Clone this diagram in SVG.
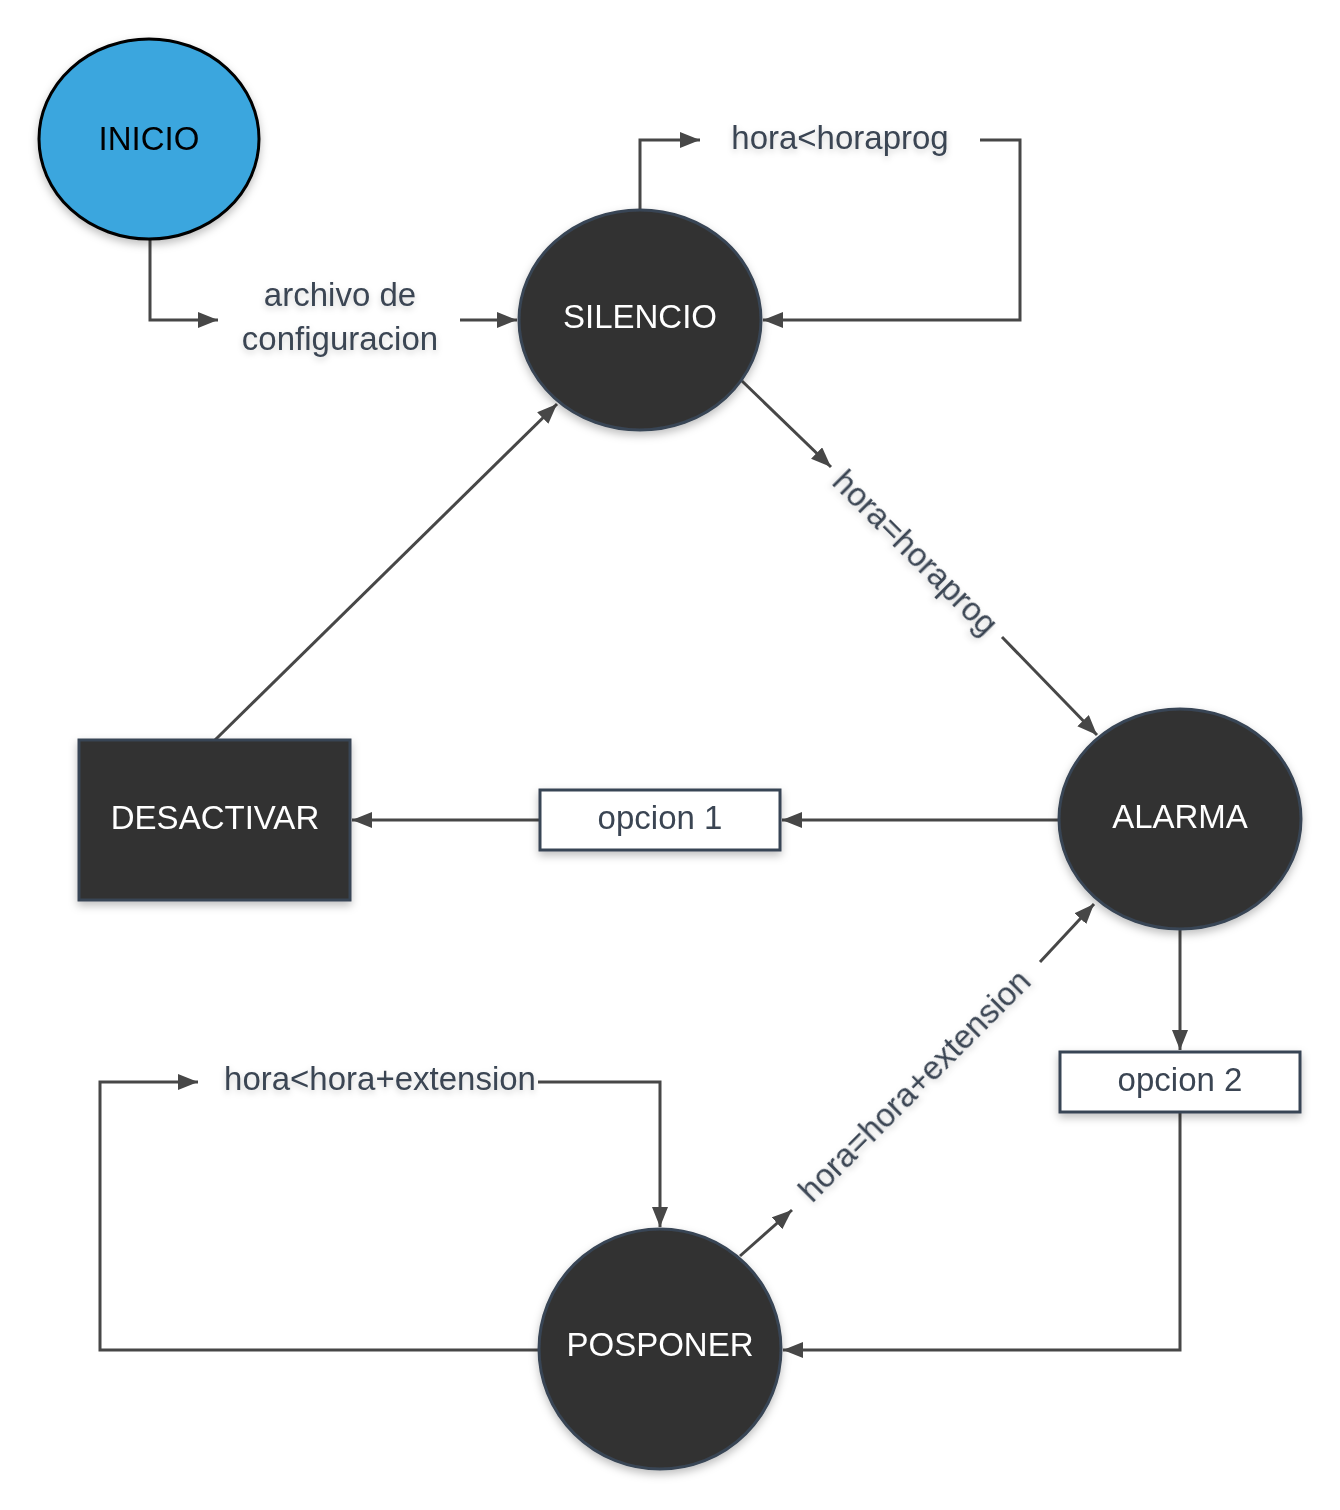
<svg xmlns="http://www.w3.org/2000/svg" width="1340" height="1510" viewBox="0 0 1340 1510">
  <style>
    .edge { fill: none; stroke: #474747; stroke-width: 3; }
    .state { fill: #333333; stroke: #394554; stroke-width: 3; }
    .opt { fill: #ffffff; stroke: #394554; stroke-width: 3; }
    .lbl { font-family: "Liberation Sans", Arial, sans-serif; font-size: 33px; fill: #3a4553; text-anchor: middle; }
    .name { font-family: "Liberation Sans", Arial, sans-serif; font-size: 33px; fill: #ffffff; text-anchor: middle; }
  </style>
  <defs>
    <marker id="arrow" markerUnits="userSpaceOnUse" markerWidth="22" markerHeight="18" refX="20" refY="8" orient="auto">
      <path d="M0,0 L20,8 L0,16 Z" fill="#474747"/>
    </marker>
    <filter id="shadow" x="-20%" y="-20%" width="140%" height="150%">
      <feDropShadow dx="0" dy="4" stdDeviation="4" flood-color="#000000" flood-opacity="0.25"/>
    </filter>
    <filter id="textglow" x="-10%" y="-30%" width="120%" height="170%">
      <feDropShadow dx="0" dy="3" stdDeviation="3" flood-color="#000000" flood-opacity="0.18"/>
    </filter>
  </defs>

  <rect width="1340" height="1510" fill="#ffffff"/>

  <!-- connectors -->
  <g id="connectors">
    <!-- INICIO -> SILENCIO -->
    <polyline class="edge" points="150,240 150,320 218,320" marker-end="url(#arrow)"/>
    <line class="edge" x1="460" y1="320" x2="517" y2="320" marker-end="url(#arrow)"/>
    <text class="lbl" x="340" y="294" dy=".35em" filter="url(#textglow)">archivo de</text>
    <text class="lbl" x="340" y="338" dy=".35em" filter="url(#textglow)">configuracion</text>

    <!-- SILENCIO self loop -->
    <polyline class="edge" points="640,209 640,140 700,140" marker-end="url(#arrow)"/>
    <polyline class="edge" points="980,140 1020,140 1020,320 763,320" marker-end="url(#arrow)"/>
    <text class="lbl" x="840" y="137" dy=".35em" filter="url(#textglow)">hora&lt;horaprog</text>

    <!-- SILENCIO -> ALARMA -->
    <line class="edge" x1="742" y1="381" x2="831" y2="467" marker-end="url(#arrow)"/>
    <line class="edge" x1="1002" y1="637" x2="1097" y2="735" marker-end="url(#arrow)"/>
    <text class="lbl" transform="translate(916,552) rotate(45)" dy=".35em" filter="url(#textglow)">hora=horaprog</text>

    <!-- ALARMA -> opcion 1 -> DESACTIVAR -->
    <line class="edge" x1="1058" y1="820" x2="782" y2="820" marker-end="url(#arrow)"/>
    <line class="edge" x1="539" y1="820" x2="352" y2="820" marker-end="url(#arrow)"/>

    <!-- DESACTIVAR -> SILENCIO -->
    <line class="edge" x1="215" y1="740" x2="557" y2="404" marker-end="url(#arrow)"/>

    <!-- ALARMA -> opcion 2 -> POSPONER -->
    <line class="edge" x1="1180" y1="930" x2="1180" y2="1050" marker-end="url(#arrow)"/>
    <polyline class="edge" points="1180,1112 1180,1350 783,1350" marker-end="url(#arrow)"/>

    <!-- POSPONER self loop -->
    <polyline class="edge" points="538,1350 100,1350 100,1082 198,1082" marker-end="url(#arrow)"/>
    <polyline class="edge" points="538,1082 660,1082 660,1227" marker-end="url(#arrow)"/>
    <text class="lbl" x="380" y="1078" dy=".35em" filter="url(#textglow)">hora&lt;hora+extension</text>

    <!-- POSPONER -> ALARMA -->
    <line class="edge" x1="740" y1="1256" x2="792" y2="1210" marker-end="url(#arrow)"/>
    <line class="edge" x1="1040" y1="962" x2="1094" y2="904" marker-end="url(#arrow)"/>
    <text class="lbl" transform="translate(914,1085) rotate(-45)" dy=".35em" filter="url(#textglow)">hora=hora+extension</text>
  </g>

  <!-- nodes -->
  <g id="inicio" filter="url(#shadow)">
    <ellipse cx="149" cy="139" rx="110" ry="100" fill="#3aa6de" stroke="#000000" stroke-width="3"/>
    <text x="149" y="138" dy=".35em" font-family="Liberation Sans, Arial, sans-serif" font-size="33" fill="#000000" text-anchor="middle">INICIO</text>
  </g>

  <g id="silencio" filter="url(#shadow)">
    <ellipse class="state" cx="640" cy="320" rx="121" ry="110"/>
    <text class="name" x="640" y="316" dy=".35em">SILENCIO</text>
  </g>

  <g id="alarma" filter="url(#shadow)">
    <ellipse class="state" cx="1180" cy="819" rx="121" ry="110"/>
    <text class="name" x="1180" y="816" dy=".35em">ALARMA</text>
  </g>

  <g id="posponer" filter="url(#shadow)">
    <ellipse class="state" cx="660" cy="1349" rx="121" ry="120"/>
    <text class="name" x="660" y="1344" dy=".35em">POSPONER</text>
  </g>

  <g id="desactivar" filter="url(#shadow)">
    <rect class="state" x="79" y="740" width="271" height="160"/>
    <text class="name" x="215" y="817" dy=".35em">DESACTIVAR</text>
  </g>

  <g id="opcion1" filter="url(#shadow)">
    <rect class="opt" x="540" y="790" width="240" height="60"/>
    <text class="lbl" x="660" y="817" dy=".35em">opcion 1</text>
  </g>

  <g id="opcion2" filter="url(#shadow)">
    <rect class="opt" x="1060" y="1052" width="240" height="60"/>
    <text class="lbl" x="1180" y="1079" dy=".35em">opcion 2</text>
  </g>
</svg>
